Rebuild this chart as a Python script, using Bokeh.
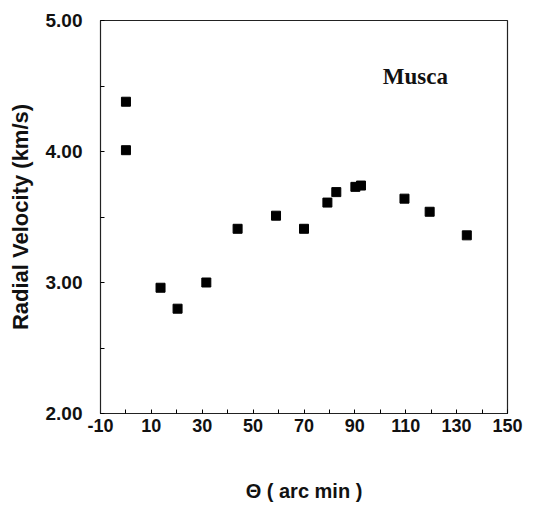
from bokeh.plotting import figure
from bokeh.models import FixedTicker, Label, ColumnDataSource, Range1d
from bokeh.embed import file_html
from bokeh.resources import INLINE

# Data
theta = [0.0, 0.0, 13.6, 20.3, 31.6, 43.9, 59.0, 70.0, 79.2, 82.7, 90.2, 92.4, 109.5, 119.4, 134.0]
velocity = [4.38, 4.01, 2.96, 2.80, 3.00, 3.41, 3.51, 3.41, 3.61, 3.69, 3.73, 3.74, 3.64, 3.54, 3.36]

x_major = [-10, 10, 30, 50, 70, 90, 110, 130, 150]
x_minor = [0, 20, 40, 60, 80, 100, 120, 140]
x_labels = {-10: "-10", 10: "10", 30: "30", 50: "50", 70: "70", 90: "90",
            110: "110", 130: "130", 150: "150"}
y_major = [2.0, 3.0, 4.0, 5.0]
y_minor = [2.5, 3.5, 4.5]
y_labels = {2.0: "2.00", 3.0: "3.00", 4.0: "4.00", 5.0: "5.00"}

source = ColumnDataSource(data=dict(theta=theta, velocity=velocity))

p = figure(width=553, height=507, frame_width=407, frame_height=393,
           x_range=Range1d(-10, 150), y_range=Range1d(2.0, 5.0),
           output_backend="svg", toolbar_location=None,
           min_border_left=100, min_border_right=46, min_border_top=20, min_border_bottom=94)

p.background_fill_color = "white"
p.border_fill_color = "white"
p.outline_line_color = "#222222"
p.outline_line_width = 1.2
p.xgrid.visible = False
p.ygrid.visible = False

p.scatter("theta", "velocity", source=source, marker="square", size=9,
          fill_color="black", line_color="black")

xa = p.xaxis[0]
xa.ticker = FixedTicker(ticks=x_major, minor_ticks=x_minor)
xa.major_label_overrides = x_labels
xa.major_tick_in = 4
xa.major_tick_out = 0
xa.minor_tick_in = 4
xa.minor_tick_out = 0
xa.axis_line_color = "#222222"
xa.major_label_text_font = "Liberation Sans"
xa.major_label_text_font_size = "18px"
xa.major_label_text_font_style = "bold"
xa.major_label_text_color = "#111111"
xa.major_label_standoff = 5
xa.axis_label = "Θ ( arc min )"
xa.axis_label_text_font = "Liberation Sans"
xa.axis_label_text_font_size = "20px"
xa.axis_label_text_font_style = "bold"
xa.axis_label_text_color = "#111111"
xa.axis_label_standoff = 45

ya = p.yaxis[0]
ya.ticker = FixedTicker(ticks=y_major, minor_ticks=y_minor)
ya.major_label_overrides = y_labels
ya.major_tick_in = 4
ya.major_tick_out = 0
ya.minor_tick_in = 4
ya.minor_tick_out = 0
ya.axis_line_color = "#222222"
ya.major_label_text_font = "Liberation Sans"
ya.major_label_text_font_size = "19px"
ya.major_label_text_font_style = "bold"
ya.major_label_text_color = "#111111"
ya.major_label_standoff = 18
ya.axis_label = "Radial Velocity (km/s)"
ya.axis_label_text_font = "Liberation Sans"
ya.axis_label_text_font_size = "22px"
ya.axis_label_text_font_style = "bold"
ya.axis_label_text_color = "#111111"
ya.axis_label_standoff = 10

p.add_layout(Label(x=101, y=4.57, text="Musca", text_font="Liberation Serif",
                   text_font_style="bold", text_font_size="23px",
                   text_color="#111111", text_baseline="middle", text_align="left"))

open("out.html", "w").write(file_html(p, INLINE))
